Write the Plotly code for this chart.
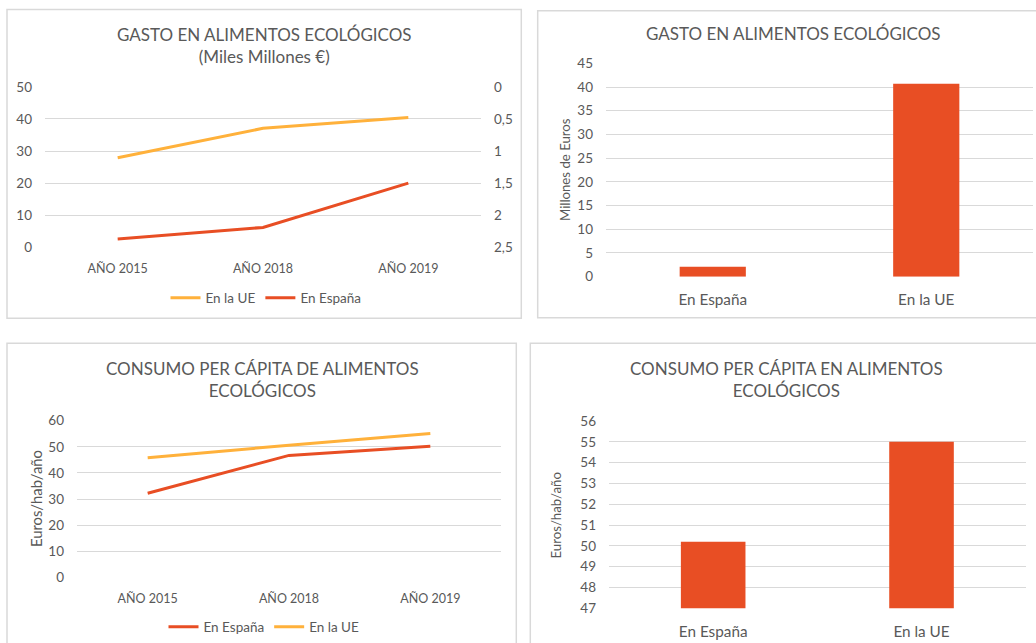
import plotly.graph_objects as go

# ---- data ----
years = ["AÑO 2015", "AÑO 2018", "AÑO 2019"]
gasto_ue = [27.9, 37.1, 40.5]          # left axis (Miles Millones €)
gasto_es = [2.37, 2.19, 1.50]          # right axis (reversed)
regions = ["En España", "En la UE"]
gasto_bar = [2.1, 40.7]                # Millones de Euros
pc_es = [32.2, 46.7, 50.2]             # Euros/hab/año
pc_ue = [45.8, 50.6, 55.1]
pc_bar = [50.2, 55.0]

RED = "#E84E24"
YEL = "#FFB13B"
GRID = "#D9D9D9"
TXT = "#595959"
FONT = "Lato"

W, H = 1036, 643
def fx(px): return px / W
def fy(py): return 1 - py / H

fig = go.Figure()

# Panel 1 lines
fig.add_trace(go.Scatter(x=years, y=gasto_ue, name="En la UE", mode="lines",
                         line=dict(color=YEL, width=3), xaxis="x", yaxis="y", legend="legend"))
fig.add_trace(go.Scatter(x=years, y=gasto_es, name="En España", mode="lines",
                         line=dict(color=RED, width=3), xaxis="x", yaxis="y5", legend="legend"))
# Panel 2 bars
fig.add_trace(go.Bar(x=regions, y=gasto_bar, marker=dict(color=RED, line=dict(width=0)),
                     showlegend=False, xaxis="x2", yaxis="y2"))
# Panel 3 lines
fig.add_trace(go.Scatter(x=years, y=pc_es, name="En España", mode="lines",
                         line=dict(color=RED, width=3), xaxis="x3", yaxis="y3", legend="legend2"))
fig.add_trace(go.Scatter(x=years, y=pc_ue, name="En la UE", mode="lines",
                         line=dict(color=YEL, width=3), xaxis="x3", yaxis="y3", legend="legend2"))
# Panel 4 bars
fig.add_trace(go.Bar(x=regions, y=pc_bar, marker=dict(color=RED, line=dict(width=0)),
                     showlegend=False, xaxis="x4", yaxis="y4"))

tick_font = dict(family=FONT, size=13.5, color=TXT)
cat_font = dict(family=FONT, size=12.5, color=TXT)
cat_font_big = dict(family=FONT, size=15.3, color=TXT)
leg_font = dict(family=FONT, size=13.5, color=TXT)

def yax(domain, rng, dtick, standoff=12, **kw):
    d = dict(domain=domain, range=rng, dtick=dtick, showgrid=True, gridcolor=GRID, gridwidth=1,
             zeroline=False, showline=False, ticks="", tickfont=tick_font, automargin=False,
             ticklabelstandoff=standoff, fixedrange=True)
    d.update(kw)
    return d

def xax(domain, anchor, font, standoff):
    return dict(domain=domain, anchor=anchor, showgrid=False, zeroline=False, showline=False,
                ticks="", tickfont=font, ticklabelstandoff=standoff, fixedrange=True,
                automargin=False)

layout = dict(
    width=W, height=H, margin=dict(l=0, r=0, t=0, b=0, pad=0, autoexpand=False), autosize=False,
    paper_bgcolor="white", plot_bgcolor="white", separators=",.",
    bargap=0.69,
    font=dict(family=FONT, color=TXT),
    xaxis=dict(xax([fx(45), fx(481)], "y", cat_font, 12), range=[-0.5, 2.5]),
    yaxis=yax([fy(247.3), fy(86.9)], [0, 50], 10, anchor="x"),
    yaxis5=dict(overlaying="y", side="right", anchor="x", range=[2.5, 0],
                tickvals=[0, 0.5, 1, 1.5, 2, 2.5], showgrid=False, zeroline=False, automargin=False,
                showline=False, ticks="", tickfont=tick_font, ticklabelstandoff=12, fixedrange=True),
    xaxis2=dict(xax([fx(606), fx(1033)], "y2", cat_font_big, 12), range=[-0.5, 1.5]),
    yaxis2=yax([fy(276.7), fy(63.3)], [0, 45], 5, anchor="x2"),
    xaxis3=dict(xax([fx(77), fx(501)], "y3", cat_font, 12), range=[-0.5, 2.5]),
    yaxis3=yax([fy(577.3), fy(420.7)], [0, 60], 10, anchor="x3"),
    xaxis4=dict(xax([fx(609), fx(1025.7)], "y4", cat_font_big, 12), range=[-0.5, 1.5]),
    yaxis4=yax([fy(608.3), fy(421)], [47, 56], 1, anchor="x4"),
    legend=dict(orientation="h", x=fx(266), y=fy(298), xanchor="center", yanchor="middle",
                font=leg_font, bgcolor="rgba(0,0,0,0)", itemwidth=30, tracegroupgap=0),
    legend2=dict(orientation="h", x=fx(264), y=fy(627), xanchor="center", yanchor="middle",
                 font=leg_font, bgcolor="rgba(0,0,0,0)", itemwidth=30, tracegroupgap=0),
)
fig.update_layout(**layout)

# Panel borders
borders = [(7, 9.5, 521.3, 318.3), (537.7, 10.7, 1040, 317.7),
           (7, 343.3, 516.3, 650), (530.3, 343.3, 1040, 650)]
for x0, y0, x1, y1 in borders:
    fig.add_shape(type="rect", xref="paper", yref="paper", x0=fx(x0), y0=fy(y0), x1=fx(x1), y1=fy(y1),
                  line=dict(color=GRID, width=1.5), fillcolor="rgba(0,0,0,0)", layer="below")

title_font = dict(family=FONT, size=17, color=TXT)
titles = [
    ("GASTO EN ALIMENTOS ECOLÓGICOS<br>(Miles Millones €)", 264.5, 45.5),
    ("GASTO EN ALIMENTOS ECOLÓGICOS", 793, 34),
    ("CONSUMO PER CÁPITA DE ALIMENTOS<br>ECOLÓGICOS", 262, 379),
    ("CONSUMO PER CÁPITA EN ALIMENTOS<br>ECOLÓGICOS", 786.5, 379.7),
]
for text, cx, cy in titles:
    fig.add_annotation(text=text, x=fx(cx), y=fy(cy), xref="paper", yref="paper",
                       showarrow=False, xanchor="center", yanchor="middle", font=title_font)

ytitles = [
    ("Millones de Euros", 565, 170, 13.2),
    ("Euros/hab/año", 36, 499, 14.8),
    ("Euros/hab/año", 555, 515.5, 13.2),
]
for text, cx, cy, sz in ytitles:
    fig.add_annotation(text=text, x=fx(cx), y=fy(cy), xref="paper", yref="paper",
                       showarrow=False, xanchor="center", yanchor="middle", textangle=-90,
                       font=dict(family=FONT, size=sz, color=TXT))

fig.write_html("out.html", config={"displayModeBar": False},
               post_script="document.body.style.margin='0';document.body.style.overflow='hidden';")
